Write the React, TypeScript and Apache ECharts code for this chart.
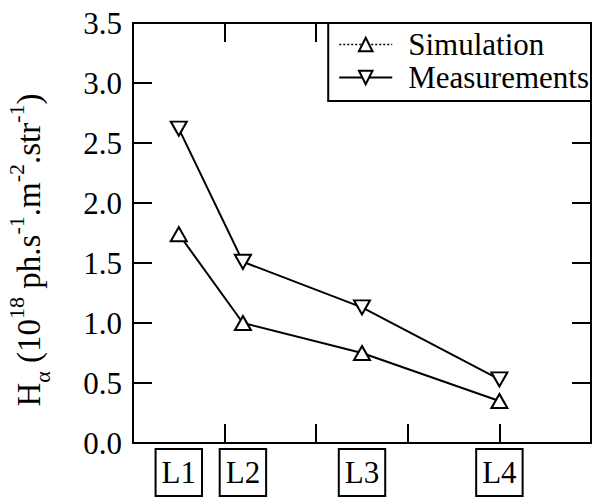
import React, { useEffect, useRef } from "react";
import * as echarts from "echarts";

const categories = ["L1", "L2", "L3", "L4"];
const positions = [0.5, 1.2, 2.5, 4.0];
const simulation = [1.74, 1.0, 0.75, 0.35];
const measurements = [2.62, 1.51, 1.13, 0.53];
const seriesNames = ["Simulation", "Measurements"];

const FONT = "Liberation Serif";
const UP = "path://M5,0 L10,10 L0,10 Z";
const DOWN = "path://M0,0 L10,0 L5,10 Z";

export default function App() {
  const ref = useRef<HTMLDivElement>(null);
  useEffect(() => {
    const chart = echarts.init(ref.current!, null, { renderer: "svg" });
    const tick = { show: true, inside: true, length: 19, lineStyle: { color: "#000", width: 2 } };
    const line = { show: true, onZero: false, lineStyle: { color: "#000", width: 2 } };
    const nearestLabel = (v: number) => {
      let best = 0;
      positions.forEach((p, i) => {
        if (Math.abs(p - v) < Math.abs(positions[best] - v)) best = i;
      });
      return categories[best];
    };
    chart.setOption({
      animation: false,
      backgroundColor: "#fff",
      textStyle: { fontFamily: FONT },
      grid: { left: 133, right: 1, top: 23, bottom: 55 },
      xAxis: [
        {
          type: "value", position: "bottom", min: 0, max: 5, interval: 1,
          axisLine: line, axisTick: tick, axisLabel: { show: false }, splitLine: { show: false },
        },
        {
          type: "value", position: "top", min: 0, max: 5, interval: 1,
          axisLine: line, axisTick: tick, axisLabel: { show: false }, splitLine: { show: false },
        },
        {
          type: "value", position: "bottom", min: 0, max: 5,
          axisLine: { show: false }, axisTick: { show: false }, splitLine: { show: false },
          axisLabel: {
            customValues: positions,
            formatter: (v: number) => nearestLabel(v),
            fontFamily: FONT, fontSize: 31, color: "#000", lineHeight: 31,
            margin: 6, padding: [8, 6, 8, 6],
            borderColor: "#000", borderWidth: 2,
          },
        },
      ],
      yAxis: [
        {
          type: "value", position: "left", min: 0, max: 3.5, interval: 0.5,
          axisLine: line, axisTick: tick, splitLine: { show: false },
          axisLabel: {
            formatter: (v: number) => v.toFixed(1),
            fontFamily: FONT, fontSize: 31, color: "#000", margin: 11,
          },
        },
        {
          type: "value", position: "right", min: 0, max: 3.5, interval: 0.5,
          axisLine: line, axisTick: tick, splitLine: { show: false }, axisLabel: { show: false },
        },
      ],
      legend: {
        orient: "vertical", right: 1, top: 23, align: "left",
        data: [
          { name: seriesNames[0], lineStyle: { type: [2, 2], width: 1.5 } },
          { name: seriesNames[1] },
        ],
        itemWidth: 53, itemHeight: 17, itemGap: 2,
        padding: [6, 2, 8, 10],
        backgroundColor: "#fff", borderColor: "#000", borderWidth: 2, borderRadius: 0,
        textStyle: { fontFamily: FONT, fontSize: 31, color: "#000", lineHeight: 30, padding: [0, 0, 0, 11] },
        selectedMode: false,
      },
      graphic: [
        {
          type: "text", x: 29, y: 250, rotation: Math.PI / 2,
          style: {
            text: "{b|H}{sub|α}{b| (10}{sup|18}{b| ph.s}{sup|-1}{b|.m}{sup|-2}{b|.str}{sup|-1}{b|)}",
            align: "center", verticalAlign: "middle",
            fontFamily: FONT, fill: "#000",
            rich: {
              b: { fontFamily: FONT, fontSize: 33, lineHeight: 48, fill: "#000" },
              sup: { fontFamily: FONT, fontSize: 22, lineHeight: 28, verticalAlign: "top", fill: "#000" },
              sub: { fontFamily: FONT, fontSize: 22, lineHeight: 24, verticalAlign: "bottom", fill: "#000" },
            },
          },
        },
      ],
      series: [
        {
          name: seriesNames[0], type: "line",
          data: positions.map((x, i) => [x, simulation[i]]),
          symbol: UP, symbolSize: [16, 14],
          lineStyle: { color: "#000", width: 2 },
          itemStyle: { color: "#fff", borderColor: "#000", borderWidth: 2 },
          z: 3,
        },
        {
          name: seriesNames[1], type: "line",
          data: positions.map((x, i) => [x, measurements[i]]),
          symbol: DOWN, symbolSize: [16, 14],
          lineStyle: { color: "#000", width: 2 },
          itemStyle: { color: "#fff", borderColor: "#000", borderWidth: 2 },
          z: 3,
        },
      ],
    });
    return () => chart.dispose();
  }, []);
  return <div ref={ref} style={{ position: "absolute", left: 0, top: 0, width: 592, height: 498 }} />;
}
